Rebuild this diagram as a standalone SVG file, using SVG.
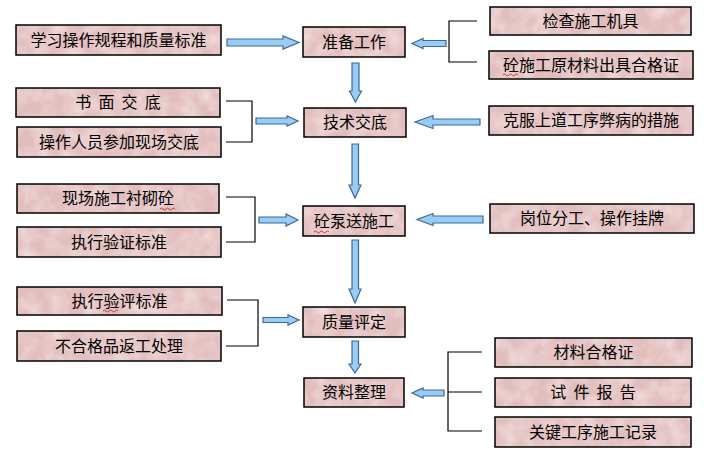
<svg xmlns="http://www.w3.org/2000/svg" width="704" height="459" viewBox="0 0 704 459">
<defs>
<filter id="noise" filterUnits="userSpaceOnUse" x="0" y="0" width="704" height="459">
<feTurbulence type="fractalNoise" baseFrequency="0.06" numOctaves="3" seed="4" result="t"/>
<feColorMatrix in="t" type="matrix" values="0 0 0 0 1  0 0 0 0 0.96  0 0 0 0 0.96  0.9 0 0 0 -0.3"/>
</filter>
<pattern id="tex" patternUnits="userSpaceOnUse" x="0" y="0" width="704" height="459">
<rect width="704" height="459" fill="#e2bdbd"/>
<rect width="704" height="459" fill="#fff" filter="url(#noise)"/>
</pattern>
</defs>
<style>
.box rect{fill:url(#tex);stroke:#000;stroke-width:1.5}
.box text{font-family:"Noto Sans CJK SC","Noto Sans",sans-serif;font-size:16px;fill:#000;text-anchor:middle}
.arr{fill:#99ccf5;stroke:#3d6898;stroke-width:1.2;stroke-linejoin:miter}
.br{fill:none;stroke:#000;stroke-width:1.2}
.sq{fill:none;stroke:#e02020;stroke-width:0.9}
</style>
<rect width="704" height="459" fill="#fff"/>
<g id="n1" class="box"><rect x="16" y="25" width="205" height="30"/><text x="118.5" y="46">学习操作规程和质量标准</text></g>
<g id="n2" class="box"><rect x="16" y="88" width="204" height="29"/><text x="118" y="108" xml:space="preserve">书  面  交  底</text></g>
<g id="n3" class="box"><rect x="17" y="127" width="204" height="30"/><text x="119" y="148">操作人员参加现场交底</text></g>
<g id="n4" class="box"><rect x="17" y="184" width="202" height="29"/><text x="118" y="204">现场施工衬砌砼</text><path class="sq" d="M160,209 q1.5,-2 3,0 t3,0 t3,0 t3,0 t3,0"/></g>
<g id="n5" class="box"><rect x="17" y="227" width="204" height="30"/><text x="119" y="248">执行验证标准</text></g>
<g id="n6" class="box"><rect x="17" y="287" width="205" height="28"/><text x="119.5" y="307">执行验评标准</text><path class="sq" d="M103,311 q1.5,-2 3,0 t3,0 t3,0 t3,0 t3,0"/></g>
<g id="n7" class="box"><rect x="17" y="331" width="204" height="30"/><text x="119" y="352">不合格品返工处理</text></g>

<g id="c1" class="box"><rect x="303" y="27" width="102" height="30"/><text x="354" y="48">准备工作</text></g>
<g id="c2" class="box"><rect x="304" y="108" width="102" height="29"/><text x="355" y="128">技术交底</text></g>
<g id="c3" class="box"><rect x="303" y="206" width="102" height="30"/><text x="354" y="227">砼泵送施工</text><path class="sq" d="M314,232 q1.5,-2 3,0 t3,0 t3,0 t3,0 t3,0"/></g>
<g id="c4" class="box"><rect x="303" y="307" width="102" height="30"/><text x="354" y="328">质量评定</text></g>
<g id="c5" class="box"><rect x="304" y="378" width="100" height="29"/><text x="354" y="398">资料整理</text></g>

<g id="r1" class="box"><rect x="490" y="7" width="201" height="28"/><text x="590.5" y="27">检查施工机具</text></g>
<g id="r2" class="box"><rect x="489" y="51" width="204" height="28"/><text x="591" y="71">砼施工原材料出具合格证</text><path class="sq" d="M503,75 q1.5,-2 3,0 t3,0 t3,0 t3,0 t3,0"/></g>
<g id="r3" class="box"><rect x="489" y="106" width="204" height="29"/><text x="591" y="126">克服上道工序弊病的措施</text></g>
<g id="r4" class="box"><rect x="490" y="204" width="204" height="29"/><text x="592" y="224">岗位分工、操作挂牌</text></g>
<g id="r5" class="box"><rect x="495" y="338" width="197" height="29"/><text x="593.5" y="358">材料合格证</text></g>
<g id="r6" class="box"><rect x="495" y="378" width="196" height="29"/><text x="593" y="398" xml:space="preserve">试  件  报  告</text></g>
<g id="r7" class="box"><rect x="495" y="417" width="196" height="30"/><text x="593" y="438">关键工序施工记录</text></g>

<g id="connectors">
<path class="br" d="M226,101 H252 V142 H226"/>
<path class="br" d="M226,197 H255 V242 H226"/>
<path class="br" d="M227,300 H258 V346 H226"/>
<path class="br" d="M477,21 H449 V62 H477"/>
<path class="br" d="M482,352 H448 V431 H482 M448,392 H482"/>
<polygon class="arr" points="227,39 283,39 283,36 299,42.5 283,49 283,46 227,46"/>
<polygon class="arr" points="256,118 287,118 287,116 298,121 287,126 287,124 256,124"/>
<polygon class="arr" points="259,217 286,217 286,214 298,220 286,226 286,223 259,223"/>
<polygon class="arr" points="263,317.5 288,317.5 288,315 299,320 288,325 288,322.5 263,322.5"/>
<polygon class="arr" points="446,40.5 423,40.5 423,38.5 412,43.5 423,48.5 423,46.5 446,46.5"/>
<polygon class="arr" points="480,119 433,119 433,115.5 415,122 433,128.5 433,125 480,125"/>
<polygon class="arr" points="483,216 433,216 433,213.5 417,219.5 433,225.5 433,223 483,223"/>
<polygon class="arr" points="444,390 423,390 423,388 412,393 423,398 423,396 444,396"/>
<polygon class="arr" points="352,63 359,63 359,91 361.5,91 355.5,102 349.5,91 352,91"/>
<polygon class="arr" points="352,144 358.5,144 358.5,185 361,185 355,198 349,185 352,185"/>
<polygon class="arr" points="352,240 358.5,240 358.5,289 361,289 355,303 349,289 352,289"/>
<polygon class="arr" points="352,341 358.5,341 358.5,364 361,364 355,373 349,364 352,364"/>
</g>
</svg>
